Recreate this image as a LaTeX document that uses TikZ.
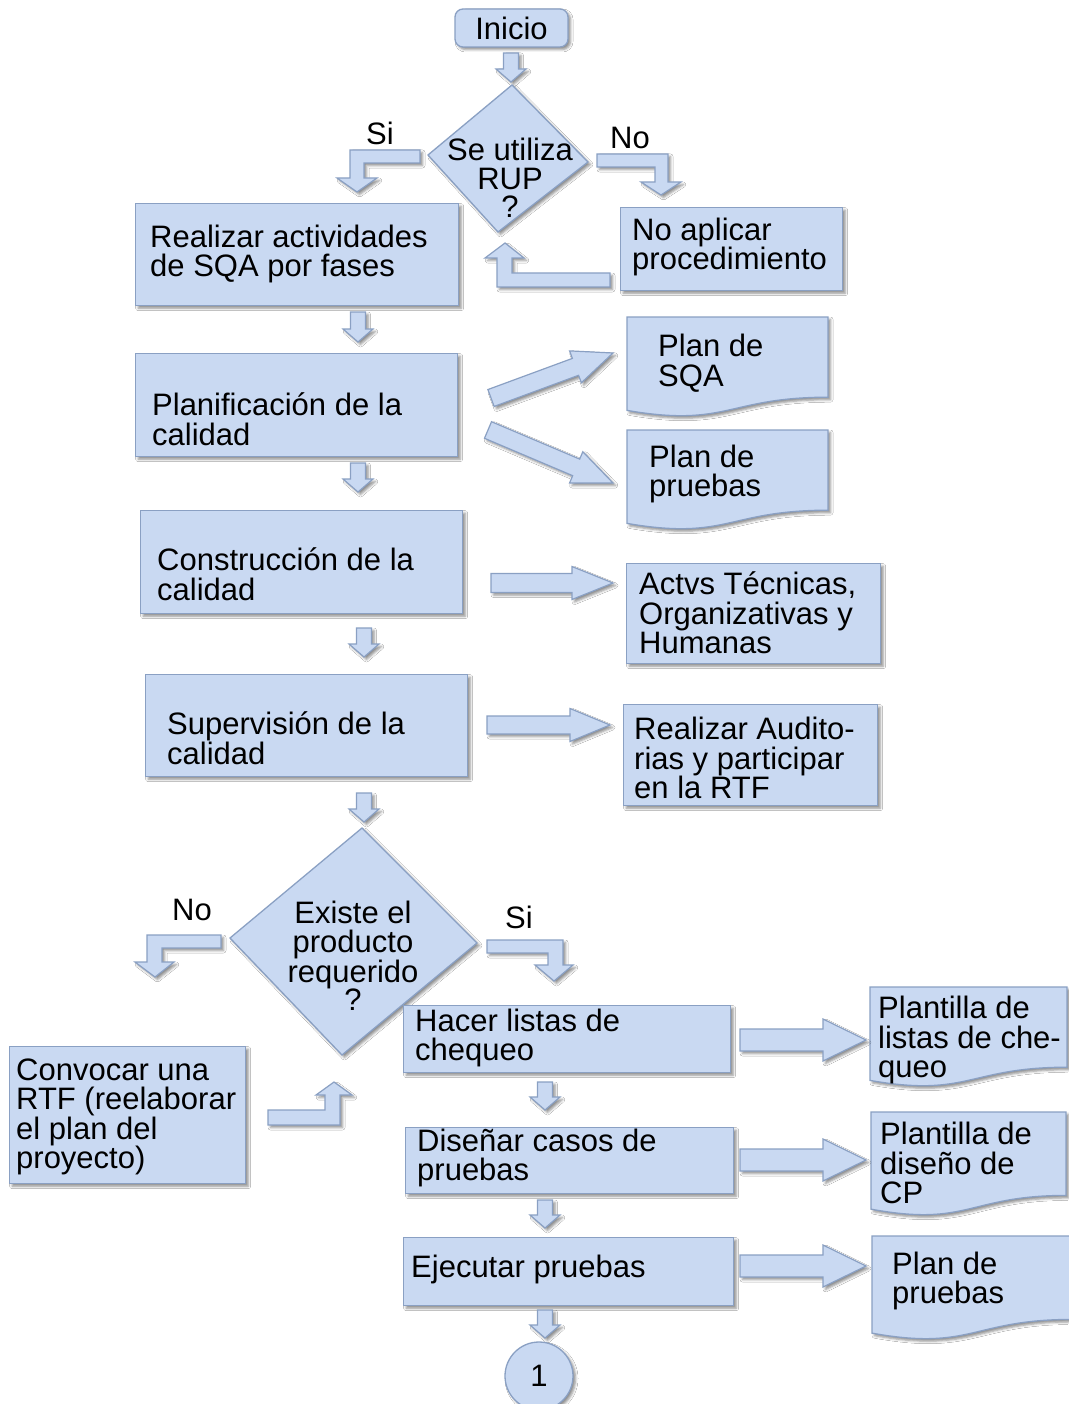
\documentclass[tikz,border=0pt]{standalone}
\usepackage{fontspec}
\setmainfont{Liberation Sans}
\usetikzlibrary{calc,shadows.blur}
\definecolor{boxc}{RGB}{201,217,242}
\definecolor{bordc}{RGB}{138,160,195}
\newcommand\fs{\fontsize{31}{29.5}\selectfont}
\newcommand\fsd{\fontsize{31}{28.3}\selectfont}
\tikzset{
  shad/.style={blur shadow={shadow xshift=2.5pt, shadow yshift=-2.5pt, shadow blur radius=2.5pt, shadow opacity=45}},
  box/.style={draw=bordc, fill=boxc, line width=1.3pt, shad, rectangle, inner sep=0pt, anchor=north west},
  shp/.style={draw=bordc, fill=boxc, line width=1.3pt, shad, line join=miter},
  barr/.style={draw=bordc, fill=boxc, line width=1.2pt, line join=miter, shad},
  txt/.style={font=\fs, align=left, inner sep=0pt, anchor=west, text=black},
  ctxt/.style={font=\fsd, align=center, inner sep=0pt, text=black},
}
% rectangle box: name, x1, y1, x2, y2
\newcommand\rbox[5]{\node[box, minimum width={#4-#2}, minimum height={#5-#3}] (#1) at (#2,#3) {};}
% document shape: name, x1, y1, x2, h
\newcommand\docshape[5]{%
  \path[shp] (#2,#3) -- (#4,#3) -- (#4,{#3+0.802*#5})
    .. controls ({(#2+#4)/2},{#3+0.802*#5}) and ({(#2+#4)/2},{#3+1.107*#5}) .. (#2,{#3+0.934*#5}) -- cycle;
  \coordinate (#1) at ({(#2+#4)/2},{#3+#5/2});}
% small down arrow: cx, top, tip
\newcommand\dnarr[3]{\path[barr] ({#1-7.5},#2) -- ({#1+7.5},#2) -- ({#1+7.5},{#3-13}) -- ({#1+15},{#3-13}) -- (#1,#3) -- ({#1-15},{#3-13}) -- ({#1-7.5},{#3-13}) -- cycle;}
% horizontal right arrow: x1, x2, yc, shaft half, head half, head length
\newcommand\rtarr[6]{\path[barr] (#1,{#3-#4}) -- ({#2-#6},{#3-#4}) -- ({#2-#6},{#3-#5}) -- (#2,#3) -- ({#2-#6},{#3+#5}) -- ({#2-#6},{#3+#4}) -- (#1,{#3+#4}) -- cycle;}
% slanted arrow between named coordinates: tail, tip, shaft half, head half, head length
\newcommand\slarr[5]{%
  \coordinate (hb) at ($(#2)!#5!(#1)$);
  \path[barr] ($(#1)!#3!90:(#2)$) -- ($(hb)!#3!90:(#2)$) -- ($(hb)!#4!90:(#2)$) -- (#2)
    -- ($(hb)!#4!-90:(#2)$) -- ($(hb)!#3!-90:(#2)$) -- ($(#1)!#3!-90:(#2)$) -- cycle;}
\begin{document}
\begin{tikzpicture}[x=1pt,y=-1pt]
\fill[white] (0,0) rectangle (1068,1404);
\useasboundingbox (0,0) rectangle (1068,1404);

% ---- start
\node[draw=bordc, fill=boxc, line width=1.3pt, shad, rounded corners=8pt, minimum width=113, minimum height=38, inner sep=0pt, font=\fs] (inicio) at (511.5,28) {Inicio};
\dnarr{511}{53}{82}

% ---- decision 1
\path[shp] (512,85) -- (588,162) -- (498,232) -- (428,155) -- cycle;
\node[ctxt] (d1) at (510,178) {Se utiliza\\RUP\\?};
\node[ctxt] (si1) at (380,133) {Si};
\node[ctxt] (no1) at (630,138) {No};
\path[barr] (420,150) -- (350,150) -- (350,178) -- (337,178) -- (357,192) -- (377,178) -- (364,178) -- (364,163) -- (420,163) -- cycle;
\path[barr] (597,154) -- (668,154) -- (668,182) -- (681,182) -- (661,195) -- (641,182) -- (655,182) -- (655,167) -- (597,167) -- cycle;

\rbox{noap}{620}{207}{842}{290}
\node[txt] (noapt) at (632,247) {No aplicar\\procedimiento};
\path[barr] (610,273) -- (512,273) -- (512,258) -- (524,258) -- (505,243) -- (485,258) -- (497,258) -- (497,287) -- (610,287) -- cycle;

% ---- main column
\rbox{real}{135}{203}{458}{305}
\node[txt] (realt) at (150,254) {Realizar actividades\\de SQA por fases};
\dnarr{358}{312}{342}

\rbox{plan}{135}{353}{457}{456}
\node[txt] (plant) at (152,419) {Planificación de la\\calidad};
\dnarr{358}{463}{492}

\docshape{sqa}{627}{317}{828}{100}
\node[txt] (sqat) at (658,363) {Plan de\\SQA};
\docshape{prue}{627}{430}{828}{100}
\node[txt] (pruet) at (649,474) {Plan de\\pruebas};
\coordinate (ta) at (491,398); \coordinate (pa) at (613,353);
\slarr{ta}{pa}{9pt}{17pt}{40pt}
\coordinate (tb) at (488,430); \coordinate (pb) at (613,483);
\slarr{tb}{pb}{9pt}{17pt}{40pt}

\rbox{cons}{140}{510}{462}{613}
\node[txt] (const) at (157,574) {Construcción de la\\calidad};
\dnarr{364}{628}{657}
\rbox{actv}{626}{563}{880}{663}
\node[txt] (actvt) at (639,613) {Actvs Técnicas,\\Organizativas y\\Humanas};
\rtarr{491}{613}{583}{9.5}{16.5}{41}

\rbox{supe}{145}{674}{467}{776}
\node[txt] (supet) at (167,738) {Supervisión de la\\calidad};
\dnarr{364}{793}{822}
\rbox{audi}{623}{704}{877}{805}
\node[txt] (audit) at (634,758) {Realizar Audito-\\rias y participar\\en la RTF};
\rtarr{487}{610}{725}{9}{16.5}{40}

% ---- decision 2
\path[shp] (362,828) -- (477,943) -- (342,1055) -- (230,938) -- cycle;
\node[ctxt] (d2) at (353,956) {Existe el\\producto\\requerido\\?};
\node[ctxt] (no2) at (192,910) {No};
\node[ctxt] (si2) at (519,917) {Si};
\path[barr] (221,935) -- (147,935) -- (147,962) -- (135,962) -- (155,977) -- (174,962) -- (162,962) -- (162,948) -- (221,948) -- cycle;
\path[barr] (487,940) -- (563,940) -- (563,965) -- (573,965) -- (554,981) -- (535,965) -- (548,965) -- (548,953) -- (487,953) -- cycle;

\rbox{conv}{9}{1046}{245}{1183}
\node[txt] (convt) at (16,1117) {Convocar una\\RTF (reelaborar\\el plan del\\proyecto)};
\path[barr] (268,1110) -- (325,1110) -- (325,1095) -- (316,1095) -- (334,1082) -- (352,1095) -- (340,1095) -- (340,1125) -- (268,1125) -- cycle;

\rbox{hace}{403}{1005}{730}{1072}
\node[txt] (hacet) at (415,1038) {Hacer listas de\\chequeo};
\dnarr{545}{1082}{1110}
\rbox{dise}{405}{1127}{733}{1193}
\node[txt] (diset) at (417,1158) {Diseñar casos de\\pruebas};
\dnarr{545}{1200}{1228}
\rbox{ejec}{403}{1237}{733}{1305}
\node[txt] (eject) at (411,1269) {Ejecutar pruebas};
\dnarr{545}{1310}{1338}
\node[circle, draw=bordc, fill=boxc, line width=1.3pt, shad, minimum size=68, inner sep=0pt, font=\fs] (uno) at (539,1376) {1};

% ---- right documents
\docshape{pl1}{870}{987}{1067}{100}
\node[txt] (pl1t) at (878,1040) {Plantilla de\\listas de che-\\queo};
\rtarr{740}{866}{1040}{11}{21}{43}
\docshape{pl2}{871}{1112}{1066}{104}
\node[txt] (pl2t) at (880,1163) {Plantilla de\\diseño de\\CP};
\rtarr{740}{866}{1160}{11}{21}{43}
\docshape{pl3}{872}{1236}{1072}{104}
\node[txt] (pl3t) at (892,1281) {Plan de\\pruebas};
\rtarr{740}{866}{1266}{11}{21}{43}
\end{tikzpicture}
\end{document}
